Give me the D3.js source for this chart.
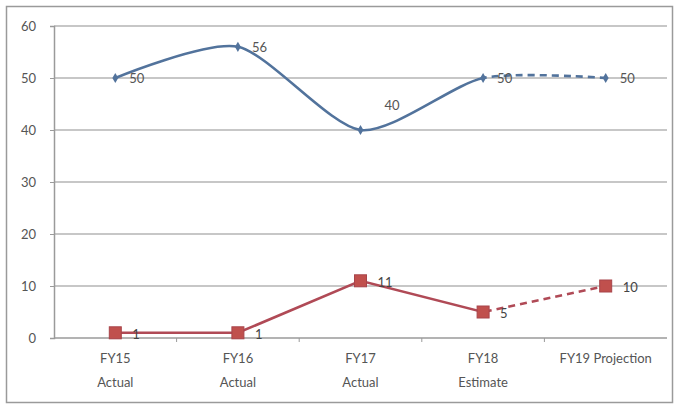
<!DOCTYPE html>
<html>
<head>
<meta charset="utf-8">
<script src="https://cdn.jsdelivr.net/npm/d3@7"></script>
<style>
  html, body { margin: 0; padding: 0; background: #fff; }
  svg { display: block; }
  text { font-family: Lato, "Open Sans", sans-serif; }
</style>
</head>
<body>
<svg id="chart" width="681" height="406"></svg>
<script>
// Fiscal-year categories (second word wraps onto a new line)
const categories = [
  ["FY15", "Actual"],
  ["FY16", "Actual"],
  ["FY17", "Actual"],
  ["FY18", "Estimate"],
  ["FY19 Projection"]
];
const blueValues = [50, 56, 40, 50, 50];
const redValues = [1, 1, 11, 5, 10];
const yTicks = [0, 10, 20, 30, 40, 50, 60];
// index from which each series is a forecast (drawn dashed)
const forecastFrom = 3;

const W = 681, H = 406;
const margin = { left: 54, right: 14, top: 26, bottom: 68 };
const svg = d3.select("#chart");

// outer frame
svg.append("rect")
  .attr("x", 6.5).attr("y", 6.5)
  .attr("width", 666).attr("height", 396)
  .attr("fill", "#fff").attr("stroke", "#9a9a9a").attr("stroke-width", 1.5);

const x = d3.scaleBand()
  .domain(d3.range(categories.length))
  .range([margin.left, W - margin.right])
  .paddingInner(0).paddingOuter(0);
const cx = i => x(i) + x.bandwidth() / 2;

const y = d3.scaleLinear().domain([0, 60]).range([H - margin.bottom, margin.top]);

// horizontal gridlines
svg.append("g")
  .selectAll("line")
  .data(yTicks.filter(t => t > 0))
  .join("line")
  .attr("x1", margin.left).attr("x2", W - margin.right)
  .attr("y1", d => y(d)).attr("y2", d => y(d))
  .attr("stroke", "#b4b4b4").attr("stroke-width", 1.6);

// y axis
const yAxis = svg.append("g")
  .attr("transform", `translate(${margin.left},0)`)
  .call(d3.axisLeft(y).tickValues(yTicks).tickSize(4).tickPadding(14));
yAxis.select(".domain").attr("stroke", "#9a9a9a").attr("stroke-width", 1.5);
yAxis.selectAll(".tick line").attr("stroke", "#9a9a9a");
yAxis.selectAll(".tick text")
  .attr("fill", "#555").attr("font-size", 13);

// x axis
const xAxisG = svg.append("g")
  .attr("transform", `translate(0,${y(0)})`);
xAxisG.append("line")
  .attr("x1", margin.left).attr("x2", W - margin.right)
  .attr("stroke", "#9a9a9a").attr("stroke-width", 1.6);
xAxisG.selectAll("line.sep")
  .data(d3.range(1, categories.length))
  .join("line")
  .attr("class", "sep")
  .attr("x1", d => x(d)).attr("x2", d => x(d))
  .attr("y1", 0).attr("y2", 4)
  .attr("stroke", "#9a9a9a");
xAxisG.selectAll("text.cat")
  .data(categories)
  .join("text")
  .attr("class", "cat")
  .attr("text-anchor", "middle")
  .attr("fill", "#555").attr("font-size", 13)
  .attr("transform", (d, i) => `translate(${cx(i)},0)`)
  .each(function (d) {
    const t = d3.select(this);
    d.forEach((line, k) => {
      t.append("tspan").attr("x", 0).attr("y", 25 + k * 24).text(line);
    });
  });

// split a path into actual (solid) and forecast (dashed) parts by clipping
const splitX = cx(forecastFrom);
const defs = svg.append("defs");
defs.append("clipPath").attr("id", "clipActual")
  .append("rect").attr("x", 0).attr("y", 0).attr("width", splitX).attr("height", H);
defs.append("clipPath").attr("id", "clipForecast")
  .append("rect").attr("x", splitX).attr("y", 0).attr("width", W - splitX).attr("height", H);

function drawSeries(values, opts) {
  const pts = values.map((v, i) => [cx(i), y(v)]);
  const line = d3.line().curve(opts.curve);
  const g = svg.append("g");
  g.append("path")
    .attr("d", line(pts))
    .attr("fill", "none").attr("stroke", opts.color).attr("stroke-width", opts.width)
    .attr("clip-path", "url(#clipActual)");
  g.append("path")
    .attr("d", line(pts))
    .attr("fill", "none").attr("stroke", opts.color).attr("stroke-width", opts.width)
    .attr("stroke-dasharray", "7,5")
    .attr("clip-path", "url(#clipForecast)");
  return { g, pts };
}

// blue series: smoothed line with small diamond markers
const blue = drawSeries(blueValues, { color: "#52739c", width: 2.6, curve: d3.curveCardinal.tension(0.25) });
blue.g.selectAll("path.m")
  .data(blue.pts)
  .join("path")
  .attr("class", "m")
  .attr("d", d3.symbol(d3.symbolDiamond, 30))
  .attr("transform", d => `translate(${d[0]},${d[1]})`)
  .attr("fill", "#52739c");
blue.g.selectAll("text")
  .data(blueValues)
  .join("text")
  .attr("font-size", 13).attr("fill", "#555")
  .attr("x", (d, i) => {
    const isMin = i > 0 && i < blueValues.length - 1 && d < blueValues[i - 1] && d < blueValues[i + 1];
    return cx(i) + (isMin ? 24 : 14);
  })
  .attr("y", (d, i) => {
    const isMin = i > 0 && i < blueValues.length - 1 && d < blueValues[i - 1] && d < blueValues[i + 1];
    return y(d) + (isMin ? -20 : 5);
  })
  .text(d => d);

// red series: straight line with square markers
const red = drawSeries(redValues, { color: "#b04a56", width: 2.6, curve: d3.curveLinear });
red.g.selectAll("rect")
  .data(red.pts)
  .join("rect")
  .attr("x", d => d[0] - 6).attr("y", d => d[1] - 6)
  .attr("width", 12).attr("height", 12)
  .attr("fill", "#c0504d").attr("stroke", "#a8444a").attr("stroke-width", 1);
red.g.selectAll("text")
  .data(redValues)
  .join("text")
  .attr("font-size", 13).attr("fill", "#444")
  .attr("x", (d, i) => cx(i) + 17)
  .attr("y", d => y(d) + 6)
  .text(d => d);
</script>
</body>
</html>
